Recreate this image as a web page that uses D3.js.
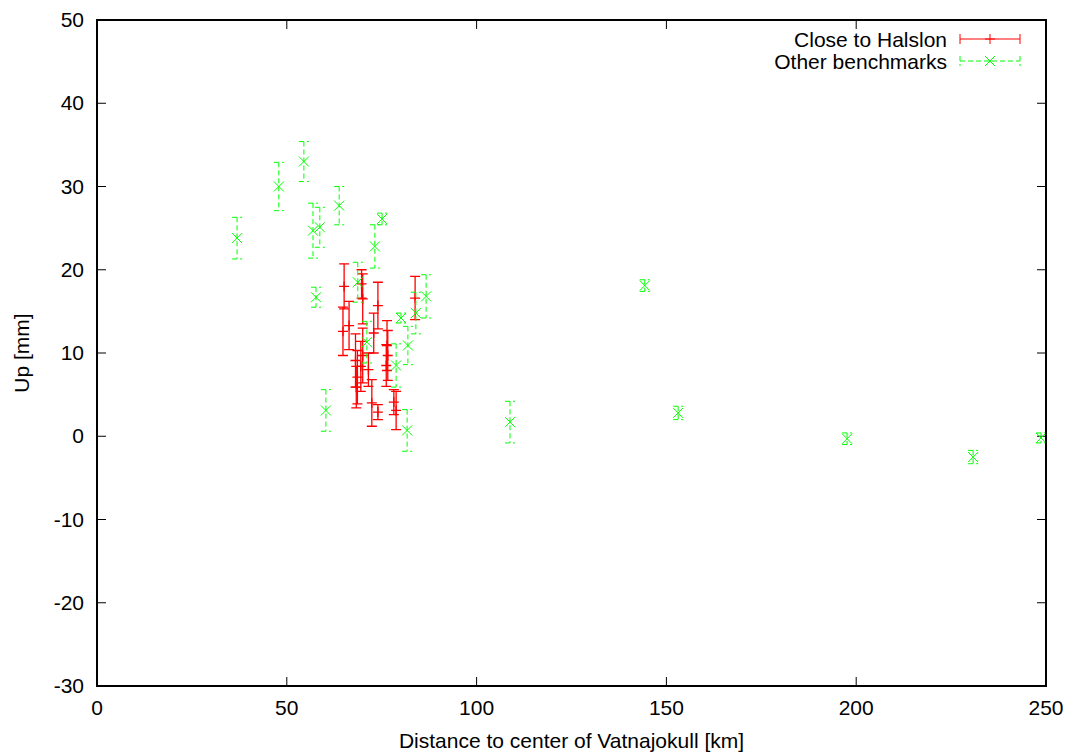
<!DOCTYPE html>
<html>
<head>
<meta charset="utf-8">
<script src="https://cdn.jsdelivr.net/npm/d3@7"></script>
<style>
  body { margin: 0; background: #fff; }
  svg { display: block; font-family: "Liberation Sans", Arial, sans-serif; }
</style>
</head>
<body>
<svg id="chart" width="1074" height="756"></svg>
<script>
// Close to Halslon (red, + markers)
const halslonDist = [65.1, 64.8, 66.4, 70.0, 69.7, 74.0, 72.9, 83.8, 68.1, 68.6, 68.3, 70.0, 69.5, 72.4, 74.0, 76.4, 76.6, 76.2, 78.2, 78.8, 71.5]
const halslonUp   = [18.0, 12.6, 13.3, 16.5, 18.3, 15.7, 12.4, 16.6,  9.1,  7.1,  5.9,  9.7,  8.4,  4.0,  2.9, 10.9,  9.7,  8.5,  4.1,  3.1,  8.0]
const halslonErr  = [ 2.7,  2.9,  2.9,  3.0,  1.7,  2.8,  2.4,  2.6,  3.2,  3.2,  2.5,  3.3,  3.0,  2.8,  0.9,  3.0,  3.0,  2.5,  1.5,  2.3,  2.0]

// Other benchmarks (green, x markers)
const otherDist = [36.9, 47.9, 54.5, 63.8, 56.9, 58.7, 75.1, 73.2, 57.7, 68.7, 71.1, 80.1, 81.9, 78.8, 84.0, 86.7, 60.3, 81.7, 108.8, 144.3, 153.1, 197.6, 230.8, 248.7]
const otherUp   = [23.8, 30.0, 33.0, 27.7, 24.7, 25.1, 26.1, 22.8, 16.7, 18.5, 11.3, 14.2, 10.9,  8.5, 14.8, 16.8,  3.1,  0.7,   1.7,  18.1,   2.8,  -0.3,  -2.5,  -0.2]
const otherErr  = [ 2.5,  2.9,  2.4,  2.3,  3.3,  2.4,  0.7,  2.6,  1.2,  2.4,  2.5,  0.6,  2.3,  2.6,  2.5,  2.6,  2.5,  2.5,   2.5,   0.7,   0.8,   0.7,   0.8,   0.6]

const xTicks = [0, 50, 100, 150, 200, 250]
const yTicks = [-30, -20, -10, 0, 10, 20, 30, 40, 50]

const svg = d3.select('#chart')
const margin = { left: 97, top: 20, right: 28, bottom: 70 }
const W = 1074 - margin.left - margin.right
const H = 756 - margin.top - margin.bottom
const fontSize = 21
const tickLen = 9
const cap = 5

const x = d3.scaleLinear().domain([0, 250]).range([0, W])
const y = d3.scaleLinear().domain([-30, 50]).range([H, 0])

const g = svg.append('g').attr('transform', `translate(${margin.left},${margin.top})`)

// ticks, mirrored on all four sides, pointing inward
const tickG = g.append('g').attr('stroke', '#000').attr('stroke-width', 1)
xTicks.forEach(v => {
  tickG.append('line').attr('x1', x(v)).attr('x2', x(v)).attr('y1', H).attr('y2', H - tickLen)
  tickG.append('line').attr('x1', x(v)).attr('x2', x(v)).attr('y1', 0).attr('y2', tickLen)
})
yTicks.forEach(v => {
  tickG.append('line').attr('x1', 0).attr('x2', tickLen).attr('y1', y(v)).attr('y2', y(v))
  tickG.append('line').attr('x1', W).attr('x2', W - tickLen).attr('y1', y(v)).attr('y2', y(v))
})

// tick labels
g.selectAll('.xl').data(xTicks).enter().append('text')
  .attr('x', d => x(d)).attr('y', H + 29)
  .attr('text-anchor', 'middle').attr('font-size', fontSize)
  .text(d => d)
g.selectAll('.yl').data(yTicks).enter().append('text')
  .attr('x', -13).attr('y', d => y(d) + 7)
  .attr('text-anchor', 'end').attr('font-size', fontSize)
  .text(d => d)

// axis titles
svg.append('text')
  .attr('x', margin.left + W / 2).attr('y', 748)
  .attr('text-anchor', 'middle').attr('font-size', fontSize)
  .text('Distance to center of Vatnajokull [km]')
svg.append('text')
  .attr('transform', `translate(29, ${margin.top + y(10)}) rotate(-90)`)
  .attr('text-anchor', 'middle').attr('font-size', fontSize)
  .text('Up [mm]')

// error bar drawing helper
function errorBars (sel, xs, ys, es, color, dash, marker, sw) {
  const grp = sel.append('g').attr('stroke', color).attr('stroke-width', sw).attr('fill', 'none')
  xs.forEach((d, i) => {
    const px = x(d), py = y(ys[i]), top = y(ys[i] + es[i]), bot = y(ys[i] - es[i])
    const p = d3.path()
    p.moveTo(px, top); p.lineTo(px, bot)
    p.moveTo(px - cap, top); p.lineTo(px + cap, top)
    p.moveTo(px - cap, bot); p.lineTo(px + cap, bot)
    grp.append('path').attr('d', p.toString()).attr('stroke-dasharray', dash)
    grp.append('path').attr('d', marker(px, py))
  })
}
const plus = (px, py) => `M${px - 5},${py}H${px + 5}M${px},${py - 5}V${py + 5}`
const cross = (px, py) => `M${px - 5},${py - 5}L${px + 5},${py + 5}M${px - 5},${py + 5}L${px + 5},${py - 5}`

const plotG = g.append('g')
errorBars(plotG, halslonDist, halslonUp, halslonErr, '#ff0000', null, plus, 1.3)
errorBars(plotG, otherDist, otherUp, otherErr, '#00ff00', '5,3', cross, 1)

// legend
const legend = [
  { label: 'Close to Halslon', color: '#ff0000', dash: null, marker: plus },
  { label: 'Other benchmarks', color: '#00ff00', dash: '5,3', marker: cross }
]
legend.forEach((l, i) => {
  const ly = 39 + i * 22
  svg.append('text').attr('x', 947).attr('y', ly + 8)
    .attr('text-anchor', 'end').attr('font-size', fontSize).text(l.label)
  const lg = svg.append('g').attr('stroke', l.color).attr('stroke-width', 1).attr('fill', 'none')
  lg.append('path').attr('d', `M960,${ly}H1020M960,${ly - 5}V${ly + 5}M1020,${ly - 5}V${ly + 5}`)
    .attr('stroke-dasharray', l.dash)
  lg.append('path').attr('d', l.marker(990, ly))
})

// frame
g.append('rect').attr('width', W).attr('height', H)
  .attr('fill', 'none').attr('stroke', '#000').attr('stroke-width', 2)
</script>
</body>
</html>
